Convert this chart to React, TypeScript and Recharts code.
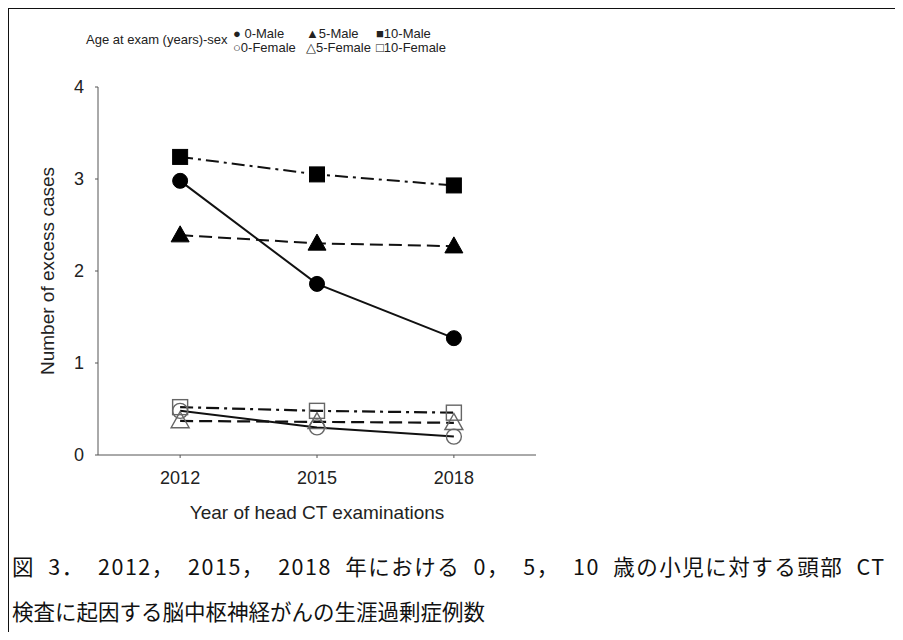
import { LineChart, Line, XAxis, YAxis, Label } from 'recharts';

// Examination years and excess case counts by age at exam and sex
const years = [2012, 2015, 2018];
const male0 = [2.98, 1.86, 1.27];
const male5 = [2.39, 2.3, 2.27];
const male10 = [3.24, 3.05, 2.93];
const female0 = [0.48, 0.3, 0.2];
const female5 = [0.37, 0.36, 0.35];
const female10 = [0.52, 0.48, 0.46];

const yTicks = [0, 1, 2, 3, 4];

const data = years.map((year, i) => ({
    year,
    male0: male0[i],
    male5: male5[i],
    male10: male10[i],
    female0: female0[i],
    female5: female5[i],
    female10: female10[i],
}));

type Shape = 'circle' | 'triangle' | 'square';

function makeDot(shape: Shape, filled: boolean) {
    return (props: any) => {
        const { cx, cy, key } = props;
        if (cx == null || cy == null) return <g key={key} />;
        const fill = filled ? '#000' : 'none';
        const stroke = filled ? '#000' : '#666';
        const sw = filled ? 1 : 1.4;
        if (shape === 'circle') {
            return <circle key={key} cx={cx} cy={cy} r={7.5} fill={fill} stroke={stroke} strokeWidth={sw} />;
        }
        if (shape === 'square') {
            return <rect key={key} x={cx - 7.5} y={cy - 7.5} width={15} height={15} fill={fill} stroke={stroke} strokeWidth={sw} />;
        }
        const h = 15;
        return (
            <polygon
                key={key}
                points={`${cx},${cy - h * 0.62} ${cx - 9},${cy + h * 0.45} ${cx + 9},${cy + h * 0.45}`}
                fill={fill}
                stroke={stroke}
                strokeWidth={sw}
            />
        );
    };
}

const axisFont = '"Liberation Sans", Arial, sans-serif';

export default function App() {
    return (
        <div style={{ position: 'relative', width: 903, height: 640, margin: -8, overflow: 'hidden', background: '#fff' }}>
            {/* Frame: only top and left edges fall inside the page */}
            <div
                style={{
                    position: 'absolute',
                    left: 7,
                    top: 7,
                    width: 1000,
                    height: 1000,
                    borderTop: '2px solid #111',
                    borderLeft: '2px solid #111',
                }}
            />

            {/* Legend */}
            <div style={{ position: 'absolute', left: 86, top: 33, fontFamily: axisFont, fontSize: 13, color: '#222', lineHeight: '14px' }}>
                Age at exam (years)-sex
            </div>
            <div style={{ position: 'absolute', left: 233, top: 27, fontFamily: axisFont, fontSize: 13, color: '#222', lineHeight: '14px' }}>
                <div style={{ display: 'flex' }}>
                    <span style={{ width: 73 }}>● 0-Male</span>
                    <span style={{ width: 70 }}>▲5-Male</span>
                    <span>■10-Male</span>
                </div>
                <div style={{ display: 'flex' }}>
                    <span style={{ width: 73 }}>○0-Female</span>
                    <span style={{ width: 70 }}>△5-Female</span>
                    <span>□10-Female</span>
                </div>
            </div>

            <div style={{ position: 'absolute', left: 0, top: 0 }}>
                <LineChart width={903} height={640} data={data} margin={{ top: 87, right: 367, bottom: 115, left: 0 }}>
                    <XAxis
                        dataKey="year"
                        type="number"
                        domain={[2010.2, 2019.8]}
                        ticks={years}
                        height={70}
                        tickSize={3}
                        tickMargin={13}
                        stroke="#555"
                        tick={{ fill: '#222', fontSize: 18, fontFamily: axisFont }}
                        allowDataOverflow
                    >
                        <Label
                            value="Year of head CT examinations"
                            position="insideBottom"
                            offset={6}
                            style={{ fill: '#222', fontSize: 19, fontFamily: axisFont }}
                        />
                    </XAxis>
                    <YAxis
                        domain={[0, 4]}
                        ticks={yTicks}
                        width={98}
                        tickSize={3}
                        tickMargin={11}
                        stroke="#555"
                        tick={{ fill: '#222', fontSize: 18, fontFamily: axisFont }}
                    >
                        <Label
                            value="Number of excess cases"
                            angle={-90}
                            position="insideLeft"
                            offset={47}
                            style={{ textAnchor: 'middle', fill: '#222', fontSize: 19, fontFamily: axisFont }}
                        />
                    </YAxis>

                    <Line dataKey="female10" stroke="#111" strokeWidth={2.2} strokeDasharray="13 5 3 5" dot={makeDot('square', false)} isAnimationActive={false} />
                    <Line dataKey="female5" stroke="#111" strokeWidth={2.2} strokeDasharray="13 6" dot={makeDot('triangle', false)} isAnimationActive={false} />
                    <Line dataKey="female0" stroke="#111" strokeWidth={2} dot={makeDot('circle', false)} isAnimationActive={false} />
                    <Line dataKey="male10" stroke="#111" strokeWidth={2} strokeDasharray="13 5 3 5" dot={makeDot('square', true)} isAnimationActive={false} />
                    <Line dataKey="male5" stroke="#111" strokeWidth={2} strokeDasharray="13 6" dot={makeDot('triangle', true)} isAnimationActive={false} />
                    <Line dataKey="male0" stroke="#111" strokeWidth={2} dot={makeDot('circle', true)} isAnimationActive={false} />
                </LineChart>
            </div>

            {/* Caption */}
            <div
                style={{
                    position: 'absolute',
                    left: 12,
                    top: 543,
                    fontFamily: '"Noto Sans CJK JP", sans-serif',
                    fontSize: 21.5,
                    lineHeight: '45px',
                    color: '#111',
                    whiteSpace: 'nowrap',
                }}
            >
                <div style={{ letterSpacing: 1.5, wordSpacing: 7 }}>
                    図 3． 2012， 2015， 2018 年における 0， 5， 10 歳の小児に対する頭部 CT
                </div>
                <div>検査に起因する脳中枢神経がんの生涯過剰症例数</div>
            </div>
        </div>
    );
}
